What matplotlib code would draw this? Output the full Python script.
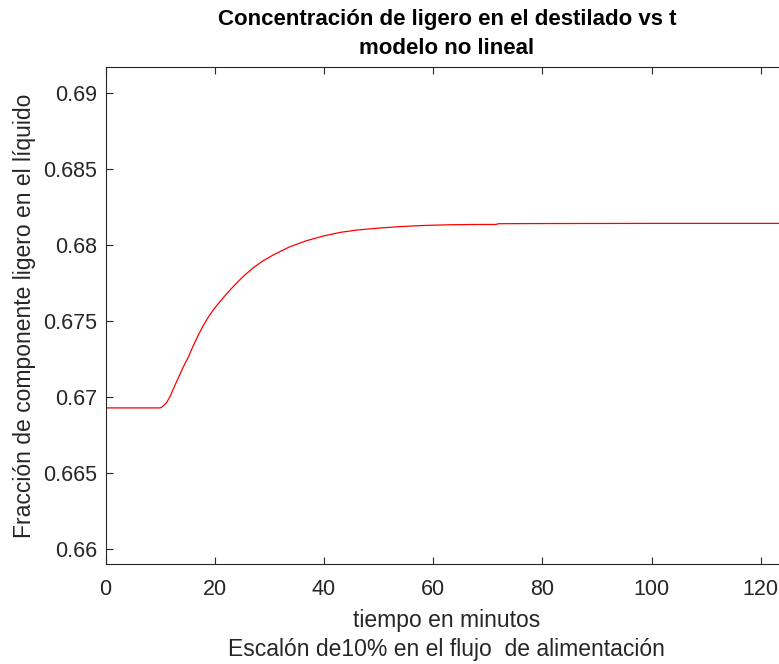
import matplotlib.pyplot as plt

# tiempo (min) y fraccion de ligero en el destilado
t_min = [0, 10.0, 10.3, 11.2, 11.8, 12.5, 13.3, 14.2, 15.2, 16.1, 17.0, 17.9,
         18.8, 19.7, 20.7, 21.9, 23.1, 24.3, 25.5, 27.0, 28.6, 30.7, 33.8,
         36.8, 39.9, 43.0, 46.0, 50.0, 54.0, 58.0, 63.0, 68.0, 71.5, 72.0,
         80.0, 100.0, 125.0]
x_dest = [0.66927, 0.66927, 0.66932, 0.66962, 0.67001, 0.67058, 0.67122,
          0.67193, 0.67264, 0.67338, 0.67407, 0.67468, 0.67522, 0.67570,
          0.67615, 0.67666, 0.67714, 0.67759, 0.67801, 0.67847, 0.67889,
          0.67933, 0.67988, 0.68027, 0.68058, 0.68082, 0.68097, 0.68110,
          0.68120, 0.68127, 0.68132, 0.68134, 0.68134, 0.68139, 0.68140,
          0.68141, 0.68141]

x_ticks = [0, 20, 40, 60, 80, 100, 120]
y_ticks = [0.66, 0.665, 0.67, 0.675, 0.68, 0.685, 0.69]
y_tick_labels = ['0.66', '0.665', '0.67', '0.675', '0.68', '0.685', '0.69']

plt.rcParams['font.family'] = ['Liberation Sans', 'DejaVu Sans']
txt = '#262626'

fig = plt.figure(figsize=(7.79, 6.64), dpi=100)
ax = fig.add_axes([105.5 / 779, 100 / 664, 682.5 / 779, 497 / 664])

ax.plot(t_min, x_dest, color='#ff0000', linewidth=0.9)

ax.set_xlim(0, 125)
ax.set_ylim(0.659, 0.6917)
ax.set_xticks(x_ticks)
ax.set_yticks(y_ticks)
ax.set_yticklabels(y_tick_labels)

ax.tick_params(direction='in', length=5, width=0.8, colors='#262626',
               labelcolor=txt, labelsize=15.5, top=True, right=True)
ax.tick_params(axis='x', pad=11)
ax.tick_params(axis='y', pad=6)
for sp in ax.spines.values():
    sp.set_color('#262626')
    sp.set_linewidth(0.8)

ax.set_title('Concentración de ligero en el destilado vs t\nmodelo no lineal',
             fontsize=16, fontweight='bold', color='black', pad=9,
             linespacing=1.5)
ax.set_xlabel('tiempo en minutos\nEscalón de10% en el flujo  de alimentación',
              fontsize=16.5, color=txt, labelpad=6, linespacing=1.38)
ax.set_ylabel('Fracción de componente ligero en el líquido',
              fontsize=16.5, color=txt, labelpad=5)

fig.savefig('out.png', dpi=100, facecolor='white')
